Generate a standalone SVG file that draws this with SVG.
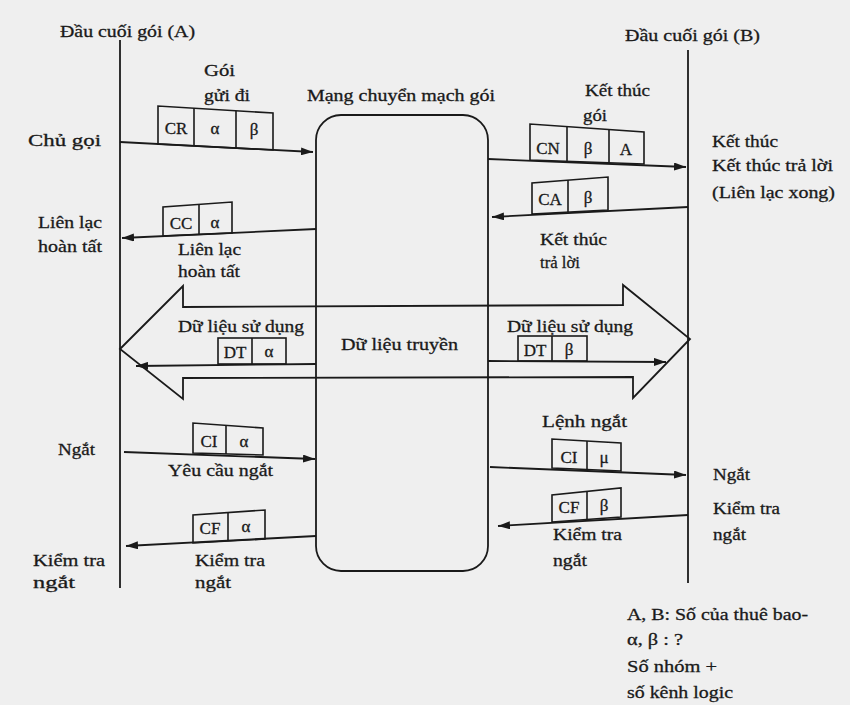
<svg xmlns="http://www.w3.org/2000/svg" width="850" height="705" viewBox="0 0 850 705">
<defs>
<marker id="ah" viewBox="0 0 12 8" refX="12" refY="4" markerWidth="12" markerHeight="8" markerUnits="userSpaceOnUse" orient="auto">
<path d="M0,0 L12,4 L0,8 z" fill="#1a1a1a"/>
</marker>
<style>
.bg{fill:#efefef}
.ln{stroke:#1a1a1a;stroke-width:1.8;fill:none}
.cn{stroke:#1a1a1a;stroke-width:1.8;fill:none;marker-end:url(#ah)}
.pk{stroke:#1a1a1a;stroke-width:1.6;fill:none}
.t text{fill:#1a1a1a;font-size:17px;stroke:#1a1a1a;stroke-width:0.3}
.t .p{font-size:17px;text-anchor:middle}
</style>
</defs>
<rect class="bg" x="0" y="0" width="850" height="705"/>

<g class="t" font-family="'Liberation Serif', 'DejaVu Serif', serif">
<g id="terminal-a">
<line class="ln" x1="120" y1="40" x2="120" y2="588"/>
<text x="60" y="37" textLength="135" lengthAdjust="spacingAndGlyphs">Đầu cuối gói (A)</text>
</g>
<g id="terminal-b">
<line class="ln" x1="688" y1="50" x2="688" y2="583"/>
<text x="625" y="41" textLength="135" lengthAdjust="spacingAndGlyphs">Đầu cuối gói (B)</text>
</g>
<g id="network">
<rect class="ln" x="316" y="115" width="172" height="456" rx="25" ry="25"/>
<text x="307" y="101" textLength="188" lengthAdjust="spacingAndGlyphs">Mạng chuyển mạch gói</text>
</g>
<g id="data-arrow">
<polygon class="ln" points="120,349 183,286 183,307 623,305 623,285 690,339 633,398 633,377 183,378 183,399"/>
<text x="178" y="332" textLength="126" lengthAdjust="spacingAndGlyphs">Dữ liệu sử dụng</text>
<text x="341" y="350" textLength="117" lengthAdjust="spacingAndGlyphs">Dữ liệu truyền</text>
<text x="507" y="332" textLength="126" lengthAdjust="spacingAndGlyphs">Dữ liệu sử dụng</text>
</g>

<g id="connectors">
<line class="cn" x1="120" y1="142" x2="313" y2="152"/>
<line class="cn" x1="316" y1="229" x2="122" y2="238"/>
<line class="cn" x1="488" y1="159" x2="686" y2="167"/>
<line class="cn" x1="688" y1="207" x2="492" y2="217"/>
<line class="cn" x1="316" y1="364" x2="136" y2="366"/>
<line class="cn" x1="488" y1="361" x2="666" y2="362"/>
<line class="cn" x1="124" y1="452" x2="315" y2="459"/>
<line class="cn" x1="316" y1="536" x2="126" y2="546"/>
<line class="cn" x1="490" y1="467" x2="686" y2="475"/>
<line class="cn" x1="688" y1="515" x2="498" y2="526"/>
</g>

<g id="pkt-cr">
<polygon class="pk" points="158,144 158,106 273,113 273,150"/>
<line class="pk" x1="194" y1="108" x2="194" y2="146"/>
<line class="pk" x1="236" y1="111" x2="236" y2="148"/>
<text class="p" x="176" y="134">CR</text>
<text class="p" x="215" y="134">α</text>
<text class="p" x="254" y="135">β</text>
</g>
<g id="lbl-caller">
<text x="28" y="146" textLength="73" lengthAdjust="spacingAndGlyphs">Chủ gọi</text>
<text x="204" y="76" textLength="31" lengthAdjust="spacingAndGlyphs">Gói</text>
<text x="204" y="101" textLength="46" lengthAdjust="spacingAndGlyphs">gửi đi</text>
</g>

<g id="pkt-cc">
<polygon class="pk" points="163,236 163,207 232,202 232,233"/>
<line class="pk" x1="199" y1="205" x2="199" y2="235"/>
<text class="p" x="181" y="229">CC</text>
<text class="p" x="215" y="228">α</text>
</g>
<g id="lbl-complete">
<text x="38" y="228" textLength="64" lengthAdjust="spacingAndGlyphs">Liên lạc</text>
<text x="38" y="252" textLength="64" lengthAdjust="spacingAndGlyphs">hoàn tất</text>
<text x="178" y="255" textLength="63" lengthAdjust="spacingAndGlyphs">Liên lạc</text>
<text x="178" y="277" textLength="62" lengthAdjust="spacingAndGlyphs">hoàn tất</text>
</g>

<g id="pkt-cn">
<polygon class="pk" points="530,160 530,124 644,132 644,164"/>
<line class="pk" x1="567" y1="127" x2="567" y2="162"/>
<line class="pk" x1="609" y1="130" x2="609" y2="163"/>
<text class="p" x="548" y="154">CN</text>
<text class="p" x="588" y="154">β</text>
<text class="p" x="626" y="155">A</text>
<text x="585" y="96" textLength="65" lengthAdjust="spacingAndGlyphs">Kết thúc</text>
<text x="583" y="121" textLength="24" lengthAdjust="spacingAndGlyphs">gói</text>
</g>
<g id="lbl-end">
<text x="712" y="147" textLength="66" lengthAdjust="spacingAndGlyphs">Kết thúc</text>
<text x="712" y="171" textLength="121" lengthAdjust="spacingAndGlyphs">Kết thúc trả lời</text>
<text x="712" y="198" textLength="123" lengthAdjust="spacingAndGlyphs">(Liên lạc xong)</text>
</g>

<g id="pkt-ca">
<polygon class="pk" points="532,214 532,183 608,177 608,210"/>
<line class="pk" x1="568" y1="180" x2="568" y2="212"/>
<text class="p" x="550" y="205">CA</text>
<text class="p" x="588" y="203">β</text>
<text x="540" y="245" textLength="67" lengthAdjust="spacingAndGlyphs">Kết thúc</text>
<text x="540" y="268" textLength="40" lengthAdjust="spacingAndGlyphs">trả lời</text>
</g>

<g id="pkt-dt-a">
<rect class="pk" x="218" y="338" width="68" height="26"/>
<line class="pk" x1="252" y1="338" x2="252" y2="364"/>
<text class="p" x="235" y="358">DT</text>
<text class="p" x="269" y="357">α</text>
</g>
<g id="pkt-dt-b">
<rect class="pk" x="518" y="336" width="69" height="25"/>
<line class="pk" x1="552" y1="336" x2="552" y2="361"/>
<text class="p" x="535" y="356">DT</text>
<text class="p" x="569" y="355">β</text>
</g>

<g id="pkt-ci-a">
<polygon class="pk" points="193,453 193,423 263,428 263,455"/>
<line class="pk" x1="226" y1="425" x2="226" y2="454"/>
<text class="p" x="209" y="447">CI</text>
<text class="p" x="244" y="447">α</text>
</g>
<g id="lbl-disc">
<text x="58" y="455" textLength="37" lengthAdjust="spacingAndGlyphs">Ngắt</text>
<text x="168" y="476" textLength="105" lengthAdjust="spacingAndGlyphs">Yêu cầu ngắt</text>
</g>

<g id="pkt-cf-a">
<polygon class="pk" points="193,543 193,515 265,510 265,539"/>
<line class="pk" x1="228" y1="513" x2="228" y2="541"/>
<text class="p" x="210" y="534">CF</text>
<text class="p" x="246" y="532">α</text>
</g>
<g id="lbl-check-a">
<text x="33" y="566" textLength="72" lengthAdjust="spacingAndGlyphs">Kiểm tra</text>
<text x="33" y="588" textLength="42" lengthAdjust="spacingAndGlyphs">ngắt</text>
<text x="195" y="566" textLength="70" lengthAdjust="spacingAndGlyphs">Kiểm tra</text>
<text x="195" y="588" textLength="36" lengthAdjust="spacingAndGlyphs">ngắt</text>
</g>

<g id="pkt-ci-b">
<polygon class="pk" points="552,468 552,439 621,443 621,471"/>
<line class="pk" x1="587" y1="441" x2="587" y2="470"/>
<text class="p" x="569" y="463">CI</text>
<text class="p" x="604" y="463">μ</text>
<text x="542" y="427" textLength="85" lengthAdjust="spacingAndGlyphs">Lệnh ngắt</text>
</g>
<g id="lbl-disc-b">
<text x="713" y="480" textLength="37" lengthAdjust="spacingAndGlyphs">Ngắt</text>
<text x="713" y="514" textLength="67" lengthAdjust="spacingAndGlyphs">Kiểm tra</text>
<text x="713" y="540" textLength="33" lengthAdjust="spacingAndGlyphs">ngắt</text>
</g>

<g id="pkt-cf-b">
<polygon class="pk" points="552,522 552,495 621,488 621,517"/>
<line class="pk" x1="587" y1="492" x2="587" y2="520"/>
<text class="p" x="569" y="513">CF</text>
<text class="p" x="604" y="511">β</text>
<text x="553" y="540" textLength="69" lengthAdjust="spacingAndGlyphs">Kiểm tra</text>
<text x="553" y="566" textLength="34" lengthAdjust="spacingAndGlyphs">ngắt</text>
</g>

<g id="legend">
<text x="627" y="620" textLength="181" lengthAdjust="spacingAndGlyphs">A, B: Số của thuê bao-</text>
<text x="627" y="645" textLength="56" lengthAdjust="spacingAndGlyphs">α, β : ?</text>
<text x="627" y="672" textLength="90" lengthAdjust="spacingAndGlyphs">Số nhóm +</text>
<text x="627" y="698" textLength="106" lengthAdjust="spacingAndGlyphs">số kênh logic</text>
</g>
</g>
</svg>
